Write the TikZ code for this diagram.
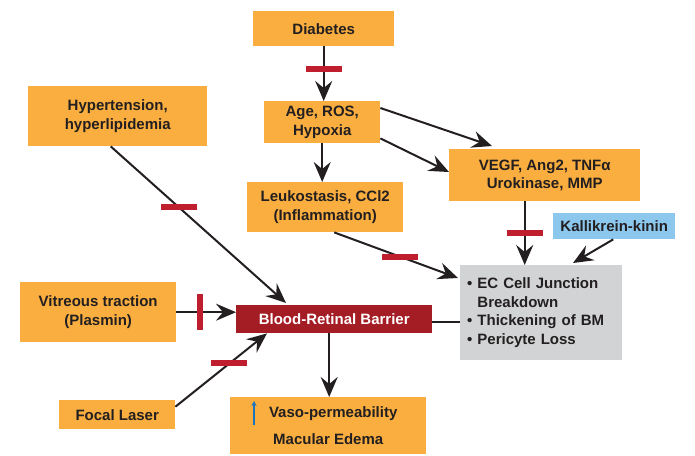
\documentclass[tikz,border=0pt]{standalone}
\usepackage{fontspec}
\setmainfont{Liberation Sans}
\usetikzlibrary{arrows.meta}
\definecolor{orangebox}{HTML}{F9AE3F}
\definecolor{brbred}{HTML}{A51D24}
\definecolor{barred}{HTML}{BE1E2D}
\definecolor{kblue}{HTML}{8CC8EE}
\definecolor{gbox}{HTML}{D1D3D4}
\definecolor{txt}{HTML}{231F20}
\definecolor{upblue}{HTML}{1C75BC}
\begin{document}
\begin{tikzpicture}[x=1pt,y=-1pt,
  box/.style={fill=orangebox, inner sep=0pt, align=center, text=txt,
    font=\fontsize{15}{18.5}\selectfont\bfseries, anchor=north west},
  arr/.style={draw=txt, line width=2pt, -{Stealth[length=20pt,width=17pt,inset=7pt]}},
  ln/.style={draw=txt, line width=2pt},
  hbar/.style={fill=barred, minimum width=36pt, minimum height=6pt, inner sep=0pt},
  vbar/.style={fill=barred, minimum width=6pt, minimum height=36pt, inner sep=0pt},
]
\useasboundingbox (0,0) rectangle (695,455);
% boxes
\node[box, minimum width=141pt, minimum height=35pt] (diab) at (253,11) {Diabetes};
\node[box, minimum width=116pt, minimum height=42pt] (age) at (264,101) {Age, ROS,\\Hypoxia};
\node[box, minimum width=179pt, minimum height=60pt] (hyp) at (28,86)
  {\raisebox{5pt}{\begin{tabular}{@{}c@{}}Hypertension,\\hyperlipidemia\end{tabular}}};
\node[box, minimum width=191pt, minimum height=52pt] (vegf) at (449,149) {VEGF, Ang2, TNFα\\Urokinase, MMP};
\node[box, fill=kblue, minimum width=122pt, minimum height=26pt] (kall) at (553,213) {Kallikrein-kinin};
\node[box, minimum width=156pt, minimum height=50pt] (leuk) at (247,182) {Leukostasis, CCl2\\(Inflammation)};
\node[box, fill=gbox, align=left, text width=148pt, inner xsep=7pt, minimum height=95pt] (gray) at (460,265)
  {• EC Cell Junction\\\phantom{• }Breakdown\\• Thickening of BM\\• Pericyte Loss};
\node[box, minimum width=156pt, minimum height=60pt] (vit) at (20,282) {Vitreous traction\\(Plasmin)};
\node[box, fill=brbred, text=white, minimum width=196pt, minimum height=28pt] (brb) at (236,305) {Blood-Retinal Barrier};
\node[box, minimum width=116pt, minimum height=29pt] (focal) at (59,400) {Focal Laser};
\node[box, minimum width=196pt, minimum height=57pt] (vaso) at (230,397) {\hspace{10pt}Vaso-permeability\\[8.5pt]Macular Edema};
\draw[upblue, line width=1.3pt, -{Stealth[length=5pt,width=5pt]}] ([shift={(24,28)}]vaso.north west) -- ([shift={(24,4)}]vaso.north west);
% connectors
\draw[arr] (diab.south) -- node[hbar, pos=0.42]{} (diab.south |- age.north);
\draw[arr] ([yshift=-7pt]age.north east) -- ([xshift=43pt,yshift=3pt]vegf.north west);
\draw[arr] ([yshift=5pt]age.south east) -- ([yshift=-23pt]vegf.north west);
\draw[arr] (age.south) -- (age.south |- leuk.north);
\draw[arr] ([xshift=-7pt]hyp.south) -- node[hbar, pos=0.39]{} ([xshift=50pt,yshift=2pt]brb.north west);
\draw[arr] ([xshift=9pt]leuk.south) -- node[hbar, pos=0.53]{} ([xshift=-2pt,yshift=-13pt]gray.north west);
\draw[arr] ([xshift=-20pt]vegf.south) -- node[hbar, pos=0.5]{} ([xshift=-20pt]vegf.south |- gray.north);
\draw[arr] ([xshift=-1pt]kall.south) -- ([xshift=113pt,yshift=2pt]gray.north west);
\draw[arr] (vit.east) -- node[vbar, pos=0.4]{} (vit.east -| brb.west);
\draw[arr] ([yshift=8pt]focal.east) -- node[hbar, pos=0.59]{} ([xshift=31pt]brb.south west);
\draw[arr] ([xshift=-5pt]brb.south) -- ([xshift=-5pt]brb.south |- vaso.north);
\draw[ln] ([yshift=-3pt]brb.east) -- ([yshift=-3pt]brb.east -| gray.west);
\end{tikzpicture}
\end{document}
